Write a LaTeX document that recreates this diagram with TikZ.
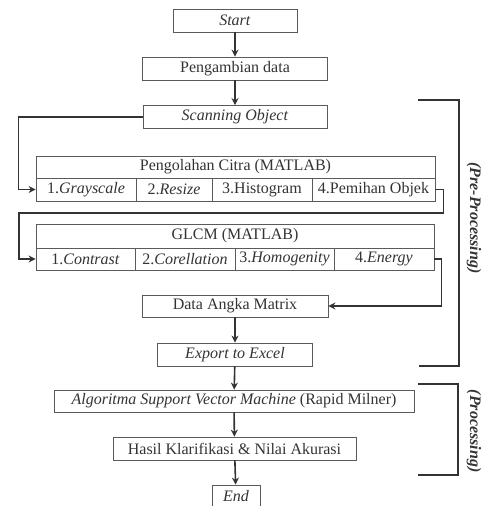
\documentclass[tikz,border=0pt]{standalone}
\usepackage{fontspec}
\setmainfont{Liberation Serif}
\usetikzlibrary{arrows.meta}
\definecolor{ink}{HTML}{333333}
\definecolor{edge}{HTML}{5A5A5A}

\begin{document}
\begin{tikzpicture}[x=1pt, y=-1pt, font=\fontsize{16}{19}\selectfont, text=ink,
    box/.style = {draw=edge, line width=0.8pt, inner sep=0pt, minimum height=23},
    link/.style = {draw=ink, line width=1.6pt, -{Stealth[length=7pt, width=7pt]}},
    brace/.style = {draw=ink, line width=1.6pt}]
    \useasboundingbox (0,0) rectangle (483,506);

    \node[box, minimum width=124] (start) at (235,20.5) {\textit{Start}};
    \node[box, minimum width=185] (ambil) at (235,68.5) {Pengambian data};
    \node[box, minimum width=184] (scan) at (235,117) {\textit{Scanning Object}};

    \node[box, minimum width=399, minimum height=22] (citra) at (235.5,167) {Pengolahan Citra (MATLAB)};
    \node[box, minimum width=100] (c1) at (86,189.5) {1.\textit{Grayscale}};
    \node[box, minimum width=76] (c2) at (174,189.5) {2.\textit{Resize}};
    \node[box, minimum width=100] (c3) at (262,189.5) {3.Histogram};
    \node[box, minimum width=123] (c4) at (373.5,189.5) {4.Pemihan Objek};

    \node[box, minimum width=398, minimum height=24] (glcm) at (235,236) {GLCM (MATLAB)};
    \node[box, minimum width=99, minimum height=22] (g1) at (85.5,259) {1.\textit{Contrast}};
    \node[box, minimum width=100, minimum height=22] (g2) at (185,259) {2.\textit{Corellation}};
    \node[box, minimum width=99, minimum height=22] (g3) at (284.5,259) {3.\textit{Homogenity}};
    \node[box, minimum width=100, minimum height=22] (g4) at (384,259) {4.\textit{Energy}};

    \node[box, minimum width=186, minimum height=22] (data) at (235,306) {Data Angka Matrix};
    \node[box, minimum width=155] (excel) at (235,354.5) {\textit{Export to Excel}};
    \node[box, minimum width=360, minimum height=22] (svm) at (234,401) {\textit{Algoritma Support Vector Machine} (Rapid Milner)};
    \node[box, minimum width=243] (hasil) at (234.5,448.5) {Hasil Klarifikasi \& Nilai Akurasi};
    \node[box, minimum width=48, minimum height=22] (end) at (236,496) {\textit{End}};

    \coordinate (back) at (19,213);

    \draw[link] (start) -- (ambil);
    \draw[link] (ambil) -- (scan);
    \draw[link] (scan.west) -- ++(-124,0) |- (c1.west);
    \draw[link] (c4.east) -- ++(8,0) |- (back) |- (g1.west);
    \draw[link] (g4.east) -- ++(7,0) |- (data.east);
    \draw[link] (data) -- (excel);
    \draw[link] (excel) -- (svm);
    \draw[link] (svm) -- (hasil);
    \draw[link] (hasil) -- (end);

    % brackets
    \draw[brace] (418,100) -- (459,100) -- (459,366) -- (419,366);
    \draw[brace] (418,384) -- (458,384) -- (458,475) -- (418,475);
    \node[rotate=-90] (pre) at (474,218) {\textbf{\textit{(Pre-Processing)}}};
    \node[rotate=-90] (proc) at (474,431) {\textbf{\textit{(Processing)}}};
\end{tikzpicture}
\end{document}
